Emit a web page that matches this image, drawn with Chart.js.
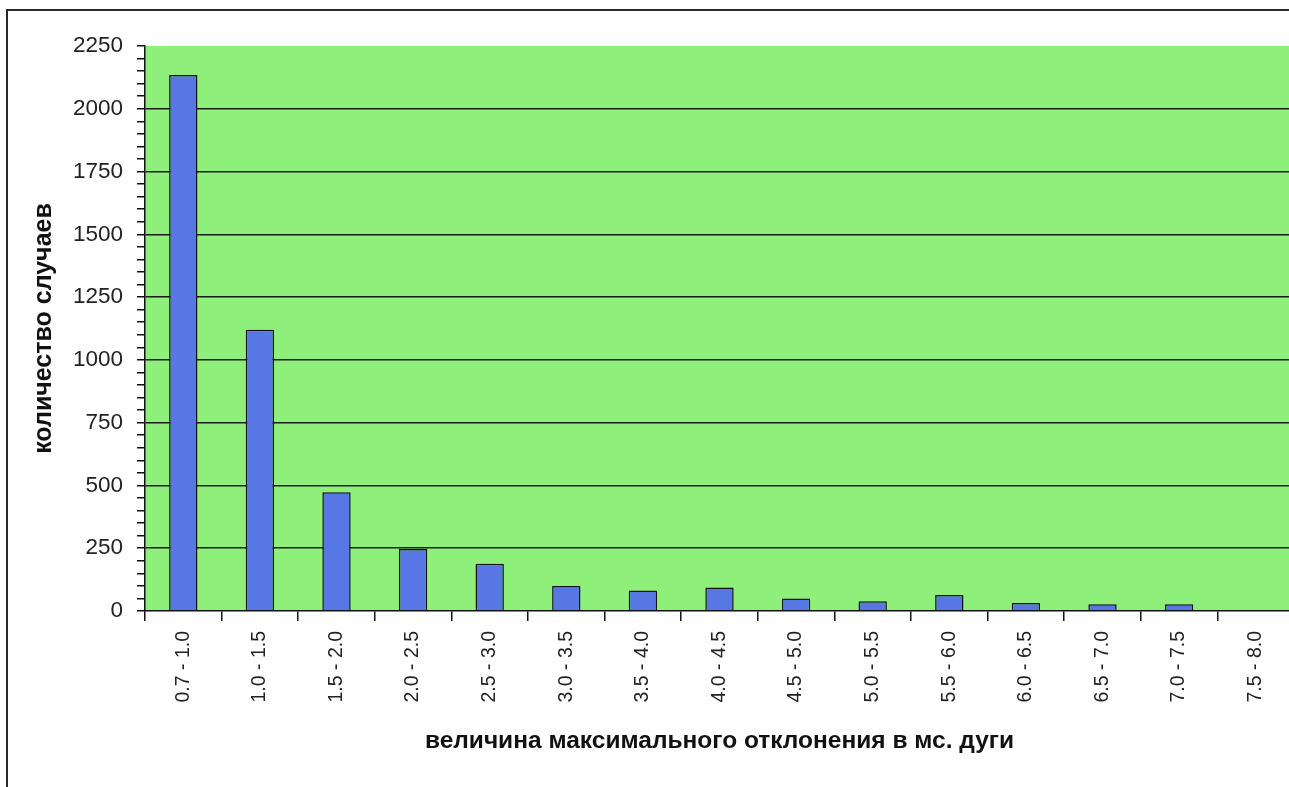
<!DOCTYPE html>
<html>
<head>
<meta charset="utf-8">
<script src="https://cdn.jsdelivr.net/npm/chart.js@4/dist/chart.umd.min.js"></script>
<style>
  html, body { margin: 0; padding: 0; background: #fff; overflow: hidden; width: 1289px; height: 787px; }
  #frame { position: absolute; left: 6px; top: 9px; width: 1400px; height: 900px; border: 2px solid #2a2a2a; }
  #c { position: absolute; left: 0; top: 0; }
</style>
</head>
<body>
<div id="frame"></div>
<canvas id="c" width="1310" height="787"></canvas>
<script>
const categories = ["0.7 - 1.0", "1.0 - 1.5", "1.5 - 2.0", "2.0 - 2.5", "2.5 - 3.0", "3.0 - 3.5", "3.5 - 4.0", "4.0 - 4.5", "4.5 - 5.0", "5.0 - 5.5", "5.5 - 6.0", "6.0 - 6.5", "6.5 - 7.0", "7.0 - 7.5", "7.5 - 8.0"];
const counts = [2135, 1120, 473, 247, 188, 100, 82, 94, 50, 39, 64, 32, 27, 27, 0];
const yMax = 2250;
const yMajorStep = 250;
const yMinorStep = 50;
const xTitle = "величина максимального отклонения в мс. дуги";
const yTitle = "количество случаев";

const plotBg = {
  id: 'plotBg',
  beforeDraw(chart) {
    const { ctx, chartArea: a } = chart;
    ctx.save();
    ctx.fillStyle = '#8FEF7B';
    ctx.fillRect(a.left, a.top, a.right - a.left, a.bottom - a.top);
    ctx.restore();
  }
};

new Chart(document.getElementById('c'), {
  type: 'bar',
  data: {
    labels: categories,
    datasets: [{
      data: counts,
      backgroundColor: '#5677E4',
      borderColor: '#111',
      borderWidth: 1.5,
      barPercentage: 0.37,
      categoryPercentage: 1.0
    }]
  },
  options: {
    responsive: false,
    animation: false,
    devicePixelRatio: 1,
    layout: { padding: { top: 46, right: 16, left: 0, bottom: 0 } },
    plugins: { legend: { display: false }, tooltip: { enabled: false } },
    scales: {
      x: {
        offset: true,
        grid: { offset: true, drawOnChartArea: false, color: '#111', tickColor: '#111', tickLength: 10, lineWidth: 1.5 },
        border: { color: '#111', width: 1.5 },
        ticks: { minRotation: 90, maxRotation: 90, autoSkip: false, padding: 10, color: '#222', font: { family: 'Liberation Sans', size: 19.5 } },
        title: { display: true, text: xTitle, color: '#111', font: { family: 'Liberation Sans', size: 24.5, weight: 'bold' }, padding: { top: 0, bottom: 31 } },
        afterFit(s) { s.height = 176; }
      },
      y: {
        min: 0, max: yMax,
        grid: {
          color: (c) => { const v = c.tick ? c.tick.value : 0; return (v % yMajorStep === 0 && v > 0 && v < yMax) ? '#1a1a1a' : 'rgba(0,0,0,0)'; },
          tickColor: '#111', tickLength: 8, lineWidth: 1.5, tickWidth: 1.5
        },
        border: { color: '#111', width: 1.5 },
        ticks: {
          stepSize: yMinorStep, autoSkip: false, padding: 14, color: '#222',
          font: { family: 'Liberation Sans', size: 22.5 },
          callback: (v) => (v % yMajorStep === 0 ? String(v) : '')
        },
        title: { display: true, text: yTitle, color: '#111', font: { family: 'Liberation Sans', size: 25, weight: 'bold' }, padding: { top: 29, bottom: 0 } },
        afterFit(s) { s.width = 145; }
      }
    }
  },
  plugins: [plotBg]
});
</script>
</body>
</html>
